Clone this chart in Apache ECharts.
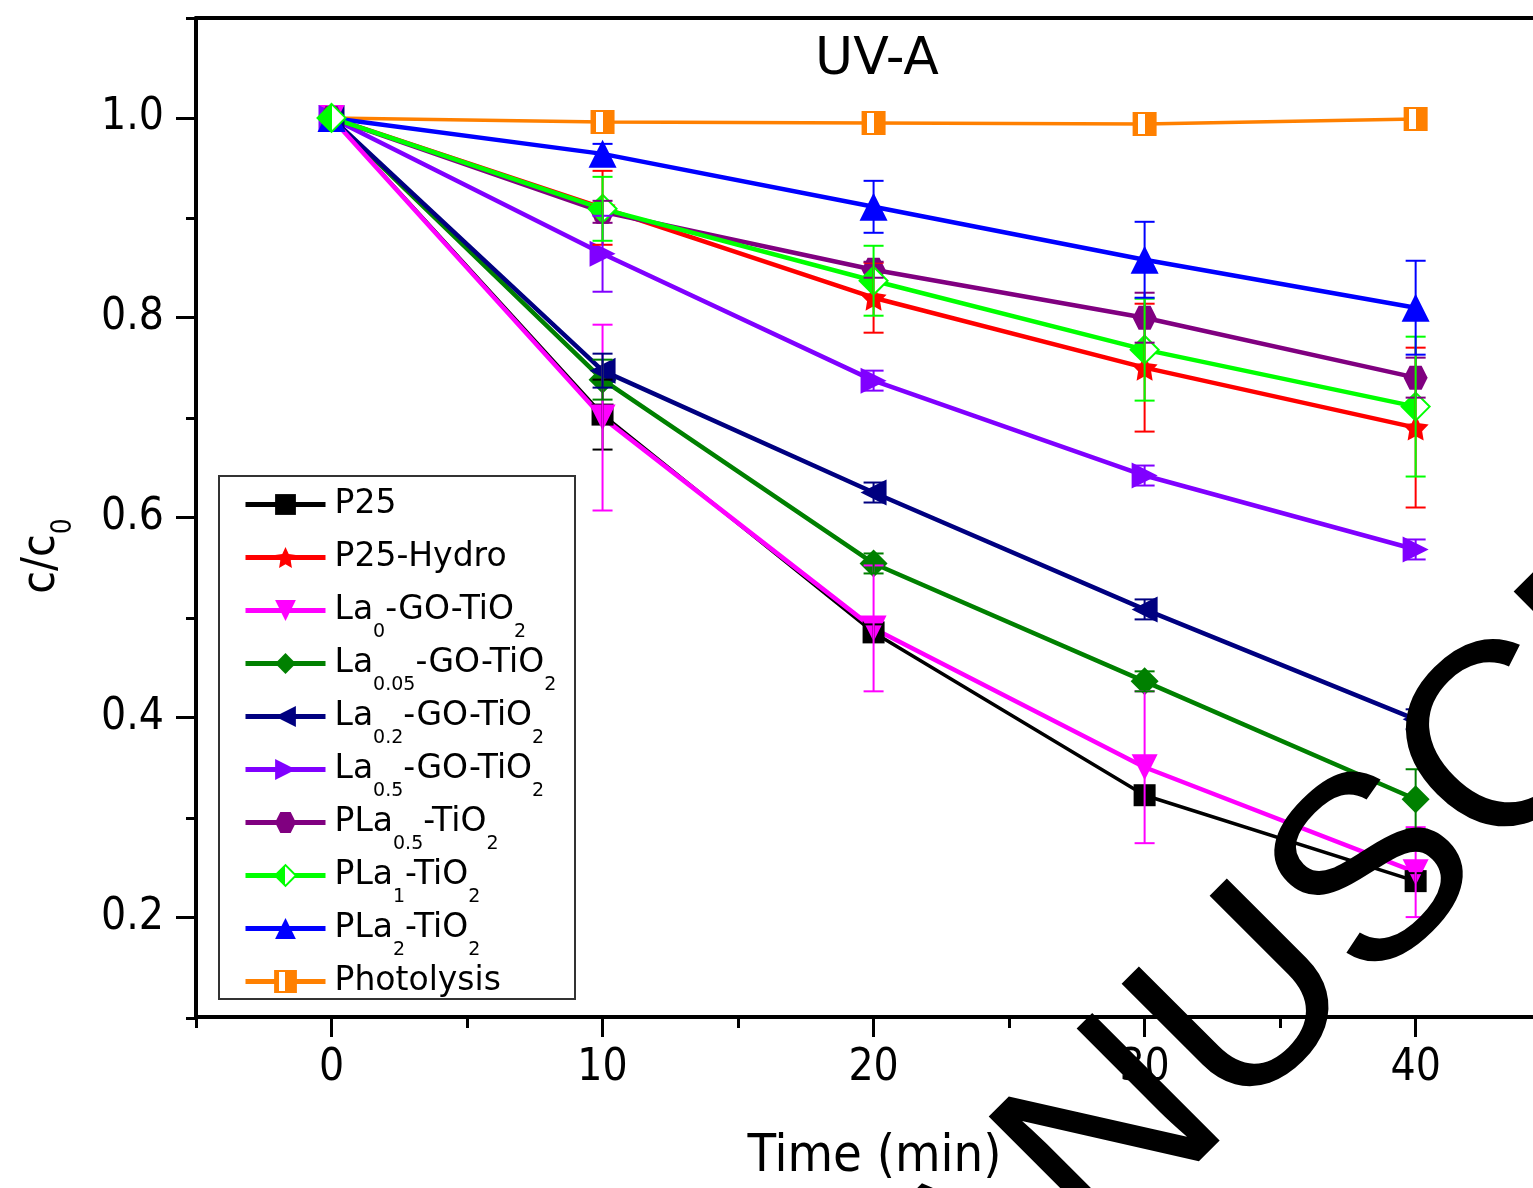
<!DOCTYPE html>
<html>
<head>
<meta charset="utf-8">
<script src="https://cdn.jsdelivr.net/npm/echarts@6/dist/echarts.min.js"></script>
<style>
html, body { margin: 0; padding: 0; background: #fff; }
#chart { width: 1533px; height: 1188px; }
</style>
</head>
<body>
<div id="chart"></div>
<script>
// time points (min)
var times = [0, 10, 20, 30, 40];

// c/c0 values
var p25        = [1.0, 0.703, 0.485, 0.322, 0.236];
var p25Hydro   = [1.0, 0.910, 0.820, 0.750, 0.690];
var la0        = [1.0, 0.700, 0.489, 0.350, 0.245];
var la005      = [1.0, 0.738, 0.554, 0.436, 0.318];
var la02       = [1.0, 0.747, 0.625, 0.508, 0.398];
var la05       = [1.0, 0.864, 0.737, 0.642, 0.568];
var pla05      = [1.0, 0.906, 0.848, 0.800, 0.740];
var pla1       = [1.0, 0.909, 0.837, 0.768, 0.711];
var pla2       = [1.0, 0.964, 0.911, 0.858, 0.810];
var photolysis = [1.0, 0.996, 0.995, 0.994, 0.999];

// error bar half heights
var p25Err        = [0, 0.035, 0.008, 0.008, 0.008];
var p25HydroErr   = [0, 0.037, 0.035, 0.064, 0.080];
var la0Err        = [0, 0.093, 0.063, 0.076, 0.045];
var la005Err      = [0, 0.020, 0.010, 0.010, 0.030];
var la02Err       = [0, 0.017, 0.010, 0.010, 0.010];
var la05Err       = [0, 0.038, 0.010, 0.010, 0.010];
var pla05Err      = [0, 0.011, 0.008, 0.025, 0.020];
var pla1Err       = [0, 0.032, 0.035, 0.051, 0.070];
var pla2Err       = [0, 0.010, 0.026, 0.038, 0.047];
var photolysisErr = [0, 0, 0, 0, 0];

// ticks
var xMajor = [0, 10, 20, 30, 40];
var xMinor = [-5, 5, 15, 25, 35];
var yMajor = [0.2, 0.4, 0.6, 0.8, 1.0];
var yMinor = [0.1, 0.3, 0.5, 0.7, 0.9, 1.1];

var legendNames = ['P25', 'P25-Hydro', 'La0-GO-TiO2', 'La0.05-GO-TiO2', 'La0.2-GO-TiO2',
    'La0.5-GO-TiO2', 'PLa0.5-TiO2', 'PLa1-TiO2', 'PLa2-TiO2', 'Photolysis'];
// {s|..} = subscript; a blank one keeps every row the same height
var legendRich = {
    'P25': 'P25{s| }',
    'P25-Hydro': 'P25-Hydro{s| }',
    'La0-GO-TiO2': 'La{s|0}-GO-TiO{s|2}',
    'La0.05-GO-TiO2': 'La{s|0.05}-GO-TiO{s|2}',
    'La0.2-GO-TiO2': 'La{s|0.2}-GO-TiO{s|2}',
    'La0.5-GO-TiO2': 'La{s|0.5}-GO-TiO{s|2}',
    'PLa0.5-TiO2': 'PLa{s|0.5}-TiO{s|2}',
    'PLa1-TiO2': 'PLa{s|1}-TiO{s|2}',
    'PLa2-TiO2': 'PLa{s|2}-TiO{s|2}',
    'Photolysis': 'Photolysis{s| }'
};

var FONT = '"DejaVu Sans", sans-serif';
var FONT_C = '"DejaVu Sans Condensed", "DejaVu Sans", sans-serif';

var starPath = 'path://M10,0L12.94,5.95L19.51,6.91L14.76,11.55L15.88,18.09L10,15L4.12,18.09L5.24,11.55L0.49,6.91L7.06,5.95Z';
var hexPath = 'path://M2.5,0L7.5,0L10,4.33L7.5,8.66L2.5,8.66L0,4.33Z';
var triDown = 'path://M0,0L10,0L5,9Z';
var triLeft = 'path://M9,0L9,10L0,5Z';
var triRight = 'path://M0,0L9,5L0,10Z';

function pairs(ys) {
    var out = [];
    for (var i = 0; i < times.length; i++) out.push([times[i], ys[i]]);
    return out;
}
function errPairs(ys, es) {
    var out = [];
    for (var i = 0; i < times.length; i++) out.push([times[i], ys[i], es[i]]);
    return out;
}

function renderErr(params, api) {
    var x = api.value(0), y = api.value(1), e = api.value(2);
    if (!e) return null;
    var top = api.coord([x, y + e]);
    var bot = api.coord([x, y - e]);
    var hw = 10;
    var st = { stroke: api.visual('color'), lineWidth: 2 };
    return {
        type: 'group',
        children: [
            { type: 'line', shape: { x1: top[0], y1: top[1], x2: bot[0], y2: bot[1] }, style: st },
            { type: 'line', shape: { x1: top[0] - hw, y1: top[1], x2: top[0] + hw, y2: top[1] }, style: st },
            { type: 'line', shape: { x1: bot[0] - hw, y1: bot[1], x2: bot[0] + hw, y2: bot[1] }, style: st }
        ]
    };
}

function lineSeries(name, ys, color, symbol, size, width, itemStyle) {
    return {
        name: name,
        type: 'line',
        data: pairs(ys),
        symbol: symbol,
        symbolSize: size,
        lineStyle: { color: color, width: width },
        itemStyle: itemStyle || { color: color },
        z: 3
    };
}
function errSeries(name, ys, es, color) {
    return {
        name: name + ' err',
        type: 'custom',
        data: errPairs(ys, es),
        renderItem: renderErr,
        itemStyle: { color: color },
        z: 5
    };
}

var green1Fill = new echarts.graphic.LinearGradient(0, 0, 1, 0, [
    { offset: 0, color: '#00ff00' }, { offset: 0.5, color: '#00ff00' },
    { offset: 0.5, color: '#ffffff' }, { offset: 1, color: '#ffffff' }
]);
var orangeFill = new echarts.graphic.LinearGradient(0, 0, 1, 0, [
    { offset: 0, color: '#ff8000' }, { offset: 0.22, color: '#ff8000' },
    { offset: 0.22, color: '#ffffff' }, { offset: 0.5, color: '#ffffff' },
    { offset: 0.5, color: '#ff8000' }, { offset: 1, color: '#ff8000' }
]);

var myChart = echarts.init(document.getElementById('chart'));

var option = {
    backgroundColor: '#fff',
    animation: false,
    grid: [
        { left: 196, right: 0, top: 18, bottom: 170 },
        { left: 196, right: 0, top: 18, bottom: 170 }
    ],
    xAxis: [
        {
            type: 'value', gridIndex: 0, position: 'bottom', min: -5, max: 44.33,
            axisLine: { onZero: false, lineStyle: { color: '#000', width: 4 } },
            axisTick: { customValues: xMajor, length: 20, lineStyle: { color: '#000', width: 3 } },
            axisLabel: { customValues: xMajor, margin: 30, color: '#000', fontSize: 44, fontFamily: FONT_C },
            splitLine: { show: false },
            name: 'Time (min)', nameLocation: 'middle', nameGap: 114,
            nameTextStyle: { color: '#000', fontSize: 52, fontFamily: FONT_C, padding: [0, 0, 0, 20] }
        },
        {
            type: 'value', gridIndex: 0, position: 'top', min: -5, max: 44.33,
            axisLine: { onZero: false, lineStyle: { color: '#000', width: 4 } },
            axisTick: { show: false }, axisLabel: { show: false }, splitLine: { show: false }
        },
        {
            type: 'value', gridIndex: 1, position: 'bottom', min: -5, max: 44.33,
            axisLine: { show: false, onZero: false },
            axisTick: { customValues: xMinor, length: 10, lineStyle: { color: '#000', width: 3 } },
            axisLabel: { show: false }, splitLine: { show: false }
        }
    ],
    yAxis: [
        {
            type: 'value', gridIndex: 0, position: 'left', min: 0.1, max: 1.1,
            axisLine: { show: true, onZero: false, lineStyle: { color: '#000', width: 4 } },
            axisTick: { show: true, customValues: yMajor, length: 20, lineStyle: { color: '#000', width: 3 } },
            axisLabel: {
                customValues: yMajor, margin: 32, color: '#000', fontSize: 44, fontFamily: FONT_C,
                formatter: function (v) { return v.toFixed(1); }
            },
            splitLine: { show: false }
        },
        {
            type: 'value', gridIndex: 1, position: 'left', min: 0.1, max: 1.1,
            axisLine: { show: false, onZero: false },
            axisTick: { show: true, customValues: yMinor, length: 10, lineStyle: { color: '#000', width: 3 } },
            axisLabel: { show: false }, splitLine: { show: false }
        }
    ],
    legend: {
        data: legendNames,
        orient: 'vertical',
        left: 243, top: 473,
        padding: 0,
        z: 10,
        itemWidth: 80, itemHeight: 26, itemGap: -10,
        lineStyle: { width: 5 },
        textStyle: {
            color: '#000', fontSize: 33, fontFamily: FONT, lineHeight: 36, padding: [0, 0, 0, 4],
            rich: {
                s: { fontSize: 19, fontFamily: FONT, color: '#000', lineHeight: 36, padding: [44, 0, 0, 0], verticalAlign: 'middle' }
            }
        },
        formatter: function (name) { return legendRich[name]; }
    },
    graphic: [
        {
            // legend frame
            type: 'rect', z: 9,
            shape: { x: 219, y: 476, width: 356, height: 523 },
            style: { fill: '#fff', stroke: '#333', lineWidth: 2 }
        },
        {
            type: 'text', x: 877, y: 60, z: 50,
            style: { text: 'UV-A', fontSize: 52, fontFamily: FONT, fill: '#000', align: 'center', verticalAlign: 'middle' }
        },
        {
            type: 'text', x: 42, y: 556, rotation: Math.PI / 2, z: 50,
            style: {
                text: '{m|c/c}{s|0}', align: 'center', verticalAlign: 'middle',
                rich: {
                    m: { fontSize: 46, fontFamily: FONT_C, fill: '#000', color: '#000', lineHeight: 50 },
                    s: { fontSize: 28, fontFamily: FONT_C, fill: '#000', color: '#000', lineHeight: 50, padding: [44, 0, 0, 0], verticalAlign: 'middle' }
                }
            }
        },
        {
            // watermark
            type: 'text', x: 772, y: 1486, rotation: 45 * Math.PI / 180, z: 100,
            style: { text: 'MANUSCRIPT', fontSize: 262, fontFamily: '"Liberation Sans", sans-serif', fill: '#000', align: 'left', verticalAlign: 'middle' }
        }
    ],
    series: [
        lineSeries('Photolysis', photolysis, '#ff8000', 'rect', 22, 3.5, { color: orangeFill, borderColor: '#ff8000', borderWidth: 2 }),
        lineSeries('P25', p25, '#000000', 'rect', 22, 3.5),
        lineSeries('P25-Hydro', p25Hydro, '#ff0000', starPath, 26, 4.5),
        lineSeries('La0.05-GO-TiO2', la005, '#008000', 'diamond', 28, 4.5),
        lineSeries('La0.2-GO-TiO2', la02, '#000080', triLeft, 26, 4.5),
        lineSeries('La0-GO-TiO2', la0, '#ff00ff', triDown, 26, 4.5),
        lineSeries('La0.5-GO-TiO2', la05, '#8000ff', triRight, 26, 4.5),
        lineSeries('PLa0.5-TiO2', pla05, '#800080', hexPath, 24, 4.5),
        lineSeries('PLa2-TiO2', pla2, '#0000ff', 'triangle', 28, 4.5),
        lineSeries('PLa1-TiO2', pla1, '#00ff00', 'diamond', 28, 4.5, { color: green1Fill, borderColor: '#00ff00', borderWidth: 2 }),
        errSeries('P25', p25, p25Err, '#000000'),
        errSeries('P25-Hydro', p25Hydro, p25HydroErr, '#ff0000'),
        errSeries('La0-GO-TiO2', la0, la0Err, '#ff00ff'),
        errSeries('La0.05-GO-TiO2', la005, la005Err, '#008000'),
        errSeries('La0.2-GO-TiO2', la02, la02Err, '#000080'),
        errSeries('La0.5-GO-TiO2', la05, la05Err, '#8000ff'),
        errSeries('PLa0.5-TiO2', pla05, pla05Err, '#800080'),
        errSeries('PLa1-TiO2', pla1, pla1Err, '#00ff00'),
        errSeries('PLa2-TiO2', pla2, pla2Err, '#0000ff'),
        errSeries('Photolysis', photolysis, photolysisErr, '#ff8000')
    ]
};
myChart.setOption(option);
</script>
</body>
</html>
